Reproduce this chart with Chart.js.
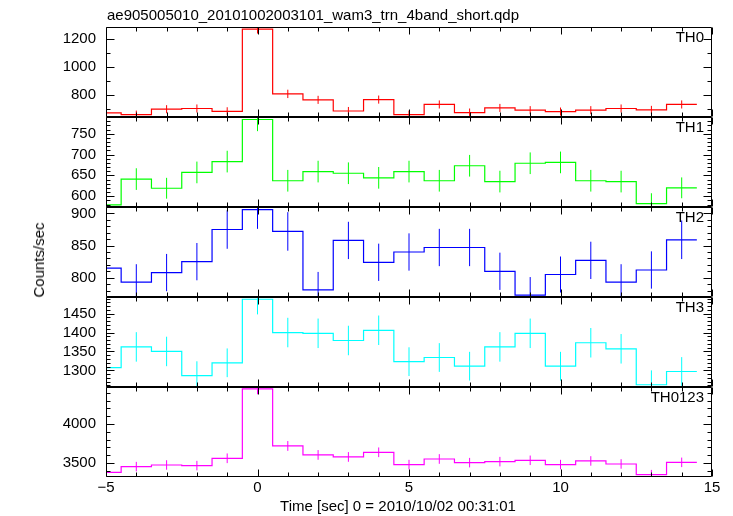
<!DOCTYPE html>
<html>
<head>
<meta charset="utf-8">
<script src="https://cdn.jsdelivr.net/npm/chart.js@4.4.0/dist/chart.umd.min.js"></script>
<style>
  body { margin: 0; background: #fff; }
  #wrap { position: relative; width: 733px; height: 516px; font-family: "Liberation Sans", Arial, sans-serif; }
  canvas { position: absolute; left: 0; top: 0; }
  .txt { position: absolute; font-size: 15px; line-height: 18px; color: #000; white-space: nowrap; }
</style>
</head>
<body>
<div id="wrap">
  <canvas id="lc" width="733" height="516"></canvas>
  <div class="txt" style="left:107px; top:6px;">ae905005010_20101002003101_wam3_trn_4band_short.qdp</div>
  <div class="txt" style="left:39px; top:260px; transform:translate(-50%,-50%) rotate(-90deg);">Counts/sec</div>
  <div class="txt" style="left:398px; top:506px; transform:translate(-50%,-50%);">Time [sec] 0 = 2010/10/02 00:31:01</div>
</div>
<script>
// centres des bins (1 s)
const binCenters = [-5, -4, -3, -2, -1, 0, 1, 2, 3, 4, 5, 6, 7, 8, 9, 10, 11, 12, 13, 14];

const th0 = [670, 658, 697, 702, 682, 1272, 807, 764, 684, 766, 658, 731, 673, 706, 690, 680, 690, 702, 692, 731];
const th0Err = [29, 29, 29, 29, 29, 32, 30, 29, 29, 29, 29, 29, 29, 29, 29, 29, 29, 29, 29, 29];
const th1 = [579, 641, 619, 657, 683, 784, 637, 659, 655, 644, 659, 637, 673, 635, 679, 681, 637, 635, 582, 620];
const th1Err = [25, 26, 25, 26, 26, 28, 26, 26, 26, 26, 26, 26, 26, 26, 26, 26, 26, 26, 25, 25];
const th2 = [815, 793, 808, 825, 875, 906, 872, 781, 858, 824, 840, 847, 847, 810, 773, 805, 827, 793, 812, 859];
const th2Err = [29, 28, 29, 29, 30, 30, 30, 28, 29, 29, 29, 29, 29, 29, 28, 28, 29, 28, 29, 30];
const th3 = [1307, 1362, 1350, 1286, 1320, 1488, 1400, 1398, 1379, 1406, 1323, 1334, 1311, 1362, 1398, 1311, 1373, 1357, 1262, 1297];
const th3Err = [38, 39, 39, 38, 38, 40, 39, 39, 39, 39, 38, 38, 38, 39, 39, 38, 39, 39, 38, 38];
const th0123 = [3380, 3453, 3474, 3466, 3560, 4449, 3718, 3603, 3577, 3637, 3479, 3551, 3504, 3517, 3534, 3479, 3526, 3487, 3351, 3508];
const th0123Err = [60, 61, 61, 61, 62, 68, 63, 62, 62, 62, 61, 62, 61, 61, 61, 61, 61, 61, 60, 61];

// graduations
const xTicks = [-5, 0, 5, 10, 15];
const th0Ticks = [800, 1000, 1200];
const th1Ticks = [600, 650, 700, 750];
const th2Ticks = [800, 850, 900];
const th3Ticks = [1300, 1350, 1400, 1450];
const th0123Ticks = [3500, 4000];

const FONT = '"Liberation Sans", Arial, sans-serif';

// un panneau par bande, du haut vers le bas
const panels = [
  { id: 'y0', name: 'TH0', color: '#ff0000', vals: th0, err: th0Err, ticks: th0Ticks, min: 641, max: 1287, minor: 100 },
  { id: 'y1', name: 'TH1', color: '#00ff00', vals: th1, err: th1Err, ticks: th1Ticks, min: 574, max: 790, minor: 10 },
  { id: 'y2', name: 'TH2', color: '#0000ff', vals: th2, err: th2Err, ticks: th2Ticks, min: 770, max: 910, minor: 10 },
  { id: 'y3', name: 'TH3', color: '#00ffff', vals: th3, err: th3Err, ticks: th3Ticks, min: 1256, max: 1494, minor: 10 },
  { id: 'y4', name: 'TH0123', color: '#ff00ff', vals: th0123, err: th0123Err, ticks: th0123Ticks, min: 3320, max: 4474, minor: 100 }
];

function stepPoints(vals) {
  const pts = binCenters.map((c, i) => ({ x: c - 0.5, y: vals[i] }));
  pts.push({ x: binCenters[binCenters.length - 1] + 0.5, y: vals[vals.length - 1] });
  return pts;
}

function errPoints(vals, err) {
  const pts = [];
  binCenters.forEach((c, i) => {
    pts.push({ x: c, y: vals[i] - err[i] });
    pts.push({ x: c, y: vals[i] + err[i] });
    pts.push({ x: c, y: null });
  });
  return pts;
}

const datasets = [];
panels.forEach(p => {
  datasets.push({
    label: p.name, data: stepPoints(p.vals), yAxisID: p.id,
    borderColor: p.color, borderWidth: 1.2, stepped: true,
    pointRadius: 0, fill: false
  });
  datasets.push({
    label: p.name + ' err', data: errPoints(p.vals, p.err), yAxisID: p.id,
    borderColor: p.color, borderWidth: 1, spanGaps: false,
    pointRadius: 0, fill: false
  });
});

const scales = {
  x: {
    type: 'linear', position: 'bottom', min: -5, max: 15,
    afterBuildTicks: s => { s.ticks = xTicks.map(v => ({ value: v })); },
    afterFit: s => { s.height = 39; },
    grid: { display: false, drawTicks: false },
    border: { display: false },
    ticks: {
      autoSkip: false, maxRotation: 0, padding: 2, color: '#000',
      font: { family: FONT, size: 15 },
      callback: v => v < 0 ? '\u2212' + Math.abs(v) : String(v)
    }
  }
};
panels.forEach((p, i) => {
  scales[p.id] = {
    type: 'linear', position: 'left', stack: 'panels', stackWeight: 1,
    weight: panels.length - i,
    min: p.min, max: p.max,
    afterBuildTicks: s => { s.ticks = p.ticks.map(v => ({ value: v })); },
    afterFit: s => { s.width = 106; },
    grid: { display: false, drawTicks: false },
    border: { display: false },
    ticks: {
      autoSkip: false, padding: 10, color: '#000',
      font: { family: FONT, size: 15 },
      callback: v => String(v)
    }
  };
});

// chaque série reste dans son panneau
const panelClip = {
  id: 'panelClip',
  beforeDatasetDraw(chart, args) {
    const ys = chart.scales[args.meta.yAxisID];
    const a = chart.chartArea;
    chart.ctx.save();
    chart.ctx.beginPath();
    chart.ctx.rect(a.left, ys.top, a.right - a.left, ys.bottom - ys.top);
    chart.ctx.clip();
  },
  afterDatasetDraw(chart) {
    chart.ctx.restore();
  }
};

// cadres, graduations vers l'intérieur et noms des bandes
const frameTicks = {
  id: 'frameTicks',
  afterDatasetsDraw(chart) {
    const ctx = chart.ctx, a = chart.chartArea, xs = chart.scales.x;
    const L = Math.round(a.left) + 0.5, R = Math.round(a.right) - 0.5;
    ctx.save();
    ctx.strokeStyle = '#000';
    ctx.lineWidth = 1;
    panels.forEach(p => {
      const ys = chart.scales[p.id];
      const top = Math.round(ys.top) + 0.5, bot = Math.round(ys.bottom) - 0.5;
      ctx.beginPath();
      ctx.rect(L, top, R - L, bot - top);
      for (let v = -5; v <= 15; v++) {
        const px = Math.round(xs.getPixelForValue(v)) + 0.5;
        const len = v % 5 === 0 ? 7 : 4;
        ctx.moveTo(px, top); ctx.lineTo(px, top + len);
        ctx.moveTo(px, bot); ctx.lineTo(px, bot - len);
      }
      for (let v = Math.ceil(p.min / p.minor) * p.minor; v <= p.max; v += p.minor) {
        const py = Math.round(ys.getPixelForValue(v)) + 0.5;
        const len = p.ticks.includes(v) ? 8 : 4;
        ctx.moveTo(L, py); ctx.lineTo(L + len, py);
        ctx.moveTo(R, py); ctx.lineTo(R - len, py);
      }
      ctx.stroke();
      ctx.fillStyle = '#000';
      ctx.font = '15px ' + FONT;
      ctx.textAlign = 'right';
      ctx.textBaseline = 'middle';
      ctx.fillText(p.name, a.right - 8, ys.top + 11);
    });
    ctx.restore();
  }
};

const ctx = document.getElementById('lc').getContext('2d');
new Chart(ctx, {
  type: 'line',
  data: { datasets: datasets },
  options: {
    responsive: false,
    animation: false,
    layout: { padding: { left: 0, right: 21, top: 27, bottom: 0 } },
    plugins: { legend: { display: false }, tooltip: { enabled: false }, title: { display: false } },
    scales: scales
  },
  plugins: [panelClip, frameTicks]
});
</script>
</body>
</html>
